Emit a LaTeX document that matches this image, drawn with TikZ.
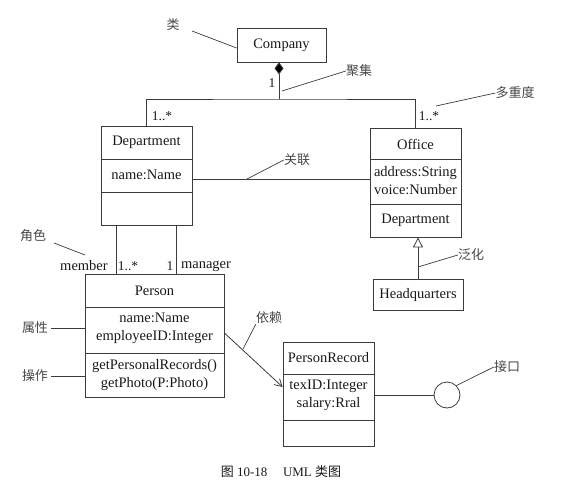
\documentclass[tikz,border=0pt]{standalone}
\usepackage{fontspec}
\setmainfont{Liberation Serif}
\newfontfamily\cjk{Noto Sans CJK SC}
\usetikzlibrary{arrows.meta,positioning,calc}
\definecolor{umlline}{RGB}{60,60,60}
\definecolor{umltext}{RGB}{25,25,25}

\tikzset{
  cls/.style={draw=umlline, line width=0.8pt, inner sep=0pt},
  txt/.style={text=umltext, inner sep=0pt, align=center,
    font=\fontsize{14.5}{18}\selectfont},
  note/.style={text=umltext!80, inner sep=0pt,
    font=\cjk\fontsize{13}{15}\selectfont},
  mult/.style={text=umltext, inner sep=0pt, font=\fontsize{13.5}{15}\selectfont},
  conn/.style={draw=umlline, line width=0.8pt},
  lead/.style={draw=umlline, line width=0.7pt},
}

\begin{document}
\begin{tikzpicture}[x=1pt, y=-1pt]
  \useasboundingbox (0,0) rectangle (571,490);

  % Classes
  \node[cls, minimum width=89, minimum height=34] (comp) at (281.5,45) {};
  \node[txt] (compName) at (281.5,45) {Company};

  \node[cls, minimum width=91, minimum height=99] (dept) at (146.5,175.5) {};
  \node[txt] (deptName) at (146.5,142) {Department};
  \node[txt] (deptAttr) at (146.5,175) {name:Name};
  \draw[conn] (dept.west |- 0,159) -- (dept.east |- 0,159);
  \draw[conn] (dept.west |- 0,192) -- (dept.east |- 0,192);

  \node[cls, minimum width=91, minimum height=109] (off) at (415.5,182.5) {};
  \node[txt] (offName) at (415.5,144) {Office};
  \node[txt] (offAttr) at (415.5,181) {address:String\\voice:Number};
  \node[txt] (offOp) at (415.5,220) {Department};
  \draw[conn, line width=0.5pt] (off.west |- 0,159) -- (off.east |- 0,159);
  \draw[conn] (off.west |- 0,204) -- (off.east |- 0,204);

  \node[cls, minimum width=90, minimum height=31] (hq) at (418,294.5) {};
  \node[txt] (hqName) at (418,295) {Headquarters};

  \node[cls, minimum width=139, minimum height=123] (per) at (154.5,335.5) {};
  \node[txt] (perName) at (154.5,291) {Person};
  \node[txt] (perAttr) at (154.5,328) {name:Name\\employeeID:Integer};
  \node[txt] (perOp) at (154.5,375.5) {getPersonalRecords()\\getPhoto(P:Photo)};
  \draw[conn] (per.west |- 0,307) -- (per.east |- 0,307);
  \draw[conn] (per.west |- 0,353) -- (per.east |- 0,353);

  \node[cls, minimum width=91, minimum height=104] (rec) at (328.5,394) {};
  \node[txt] (recName) at (328.5,358) {PersonRecord};
  \node[txt] (recAttr) at (328.5,395) {texID:Integer\\salary:Rral};
  \draw[conn] (rec.west |- 0,374) -- (rec.east |- 0,374);
  \draw[conn] (rec.west |- 0,420) -- (rec.east |- 0,420);

  \node[draw=umlline, line width=0.8pt, circle, minimum size=26, inner sep=0pt] (ifc) at (447,395) {};

  % Connectors
  \coordinate (jn) at (279,99);
  \draw[conn, -{Diamond[length=12pt, width=9pt, fill=black]}] (jn) -- (jn |- comp.south);
  \draw[conn] (dept.north) |- (jn) -| (off.north);
  \draw[conn] (dept.east |- 0,179) -- (off.west |- 0,179);
  \draw[conn, -{Triangle[open, length=10pt, width=10pt]}] (hq.north) -- (hq.north |- off.south);
  \draw[conn] (dept.south -| 116,0) -- (per.north -| 116,0);
  \draw[conn] (dept.south -| 176,0) -- (per.north -| 176,0);
  \draw[conn, -{Straight Barb[length=7pt, width=8pt]}] (per.east |- 0,333) -- (rec.west |- 0,387);
  \draw[conn] (rec.east |- ifc) -- (ifc.west);

  % Multiplicities and roles
  \node[mult] (mOne) at (272,83) {1};
  \node[mult] (mDept) at (162,116) {1..*};
  \node[mult] (mOff) at (429,116) {1..*};
  \node[mult, font=\fontsize{14.5}{16}\selectfont] (rMember) at (84,266) {member};
  \node[mult] (mMember) at (128,266) {1..*};
  \node[mult] (mManager) at (170,266) {1};
  \node[mult, font=\fontsize{14.5}{16}\selectfont] (rManager) at (206,266) {manager};

  % Notes
  \node[note] (nCls) at (173,25) {类};
  \draw[lead] (192,31) -- (comp.west |- 0,48);
  \node[note] (nAgg) at (359,71) {聚集};
  \draw[lead] (282,91) -- (nAgg.west);
  \node[note] (nMul) at (515,93) {多重度};
  \draw[lead] (436,106) -- (nMul.west);
  \node[note] (nAsc) at (297,160) {关联};
  \draw[lead] (247,179) -- (nAsc.west);
  \node[note] (nGen) at (471,255) {泛化};
  \draw[lead] (418,267) -- (nGen.west);
  \node[note] (nRole) at (33,236) {角色};
  \draw[lead] (54,243) -- (85,255);
  \node[note] (nAttr) at (35,328) {属性};
  \draw[lead] (nAttr.east) ++(3,0) -- (per.west |- 0,328);
  \node[note] (nOp) at (35,376) {操作};
  \draw[lead] (nOp.east) ++(3,0) -- (per.west |- 0,376);
  \node[note] (nDep) at (269,318) {依赖};
  \draw[lead] (243,349) -- (nDep.south west);
  \node[note] (nIfc) at (507,367) {接口};
  \draw[lead] (ifc.north east) -- (nIfc.west);

  % Caption
  \node[txt, font=\fontsize{13}{15}\selectfont] (cap) at (281,472) {{\cjk 图} 10-18\hspace{1.2em}UML {\cjk 类图}};
\end{tikzpicture}
\end{document}
